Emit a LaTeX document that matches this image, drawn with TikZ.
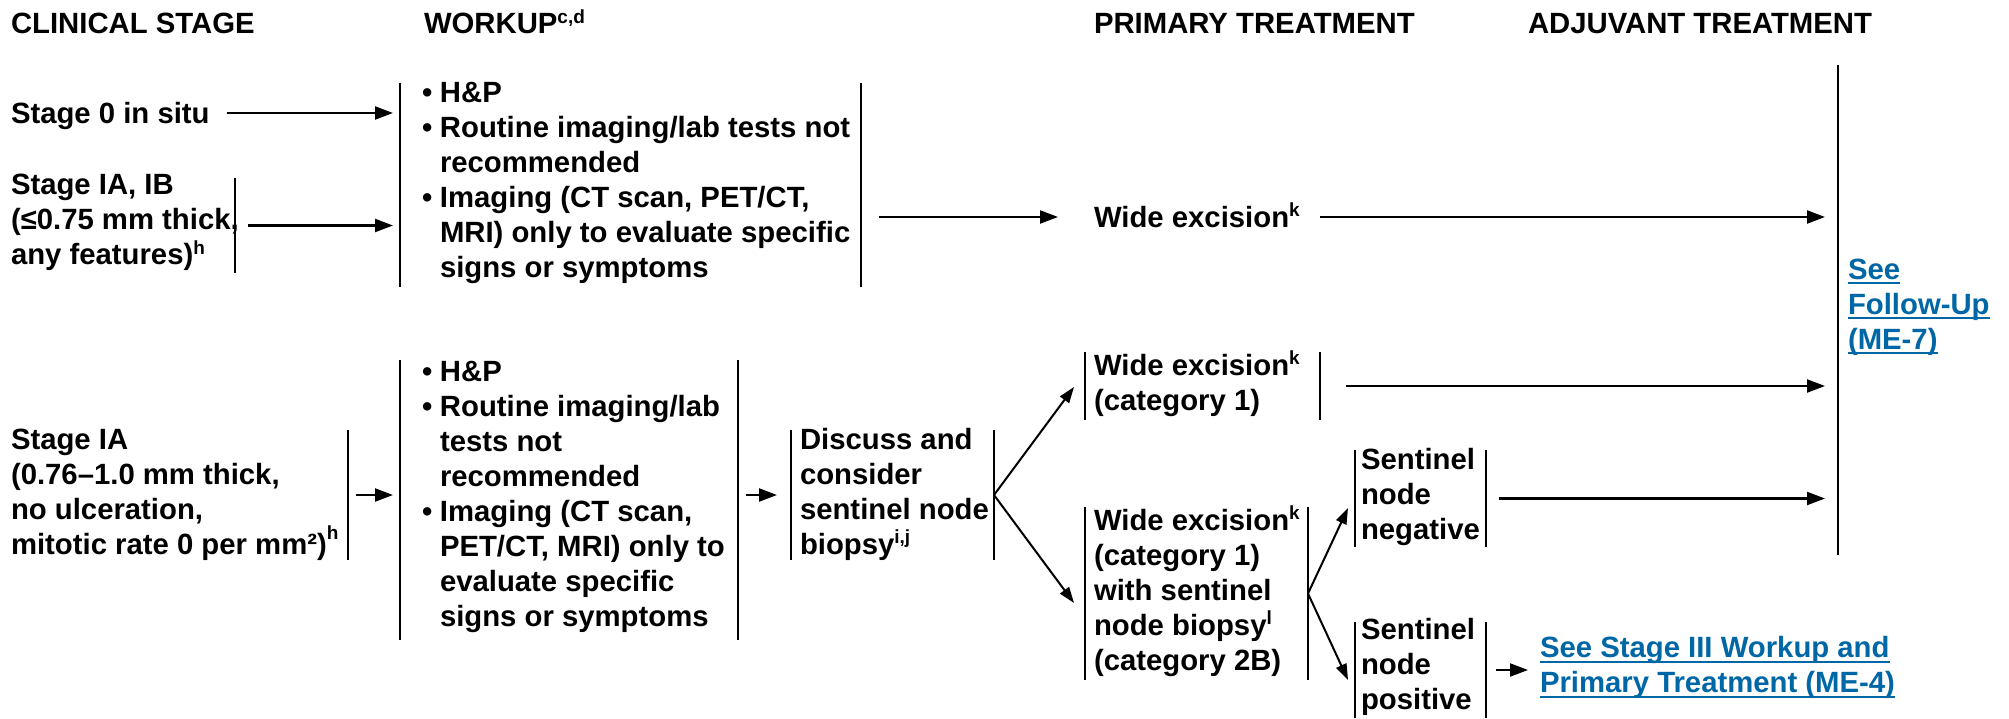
\documentclass[tikz,border=0pt]{standalone}
\usepackage{fontspec}
\setmainfont{Liberation Sans}
\usetikzlibrary{arrows.meta,calc}
\definecolor{linkblue}{RGB}{0,103,166}
\newcommand\sups[2][11]{\smash{\raisebox{#1pt}{\fontsize{19}{19}\selectfont #2}}}
\newcommand\lnk[1]{\textcolor{linkblue}{\setbox0\hbox{#1}\rlap{\rule[-5pt]{\wd0}{2pt}}\box0}}
\newcommand\blk[2]{\makebox[#1][l]{\begin{tabular}{@{}l@{}}#2\end{tabular}}}
\newcommand\bul{\makebox[18pt][l]{•}}
\newcommand\ind{\hspace*{18pt}}
\tikzset{
  every node/.style={font=\bfseries\fontsize{29.3}{35}\selectfont, inner sep=0pt, outer sep=0pt},
  hdr/.style={anchor=base west},
  one/.style={anchor=west, text height=21pt, text depth=0pt},
  tsh/.style={text height=#1, text depth=-#1},
  bk/.style={anchor=west, minimum height=#1, tsh=7.3pt},
  bar/.style={draw=black, line width=2.3pt, -},
  lbar/.style={append after command={(\tikzlastnode.north west) edge[bar] (\tikzlastnode.south west)}},
  rbar/.style={append after command={(\tikzlastnode.north east) edge[bar] (\tikzlastnode.south east)}},
  arr/.style={draw=black, line width=2.2pt, -{Triangle[length=18pt,width=13pt]}},
  farr/.style={draw=black, line width=2pt, -{Triangle[length=16pt,width=11pt]}},
}
\begin{document}
\begin{tikzpicture}[x=1pt, y=-1pt]
\fill[white] (0,0) rectangle (2009,719);
\useasboundingbox (0,0) rectangle (2009,719);
% headers
\node[hdr] (hcs) at (11,33.5) {CLINICAL STAGE};
\node[hdr] (hwu) at (424,33.5) {WORKUP\sups[10]{c,d}};
\node[hdr] (hpt) at (1094,33.5) {PRIMARY TREATMENT};
\node[hdr] (hat) at (1528,33.5) {ADJUVANT TREATMENT};
% row 1
\node[one] (s0) at (11,113) {Stage 0 in situ};
\node[bk=95, rbar] (s1) at (11,225.5) {\blk{224pt}{Stage IA, IB\\(≤0.75 mm thick,\\any features)\sups[10]{h}}};
\node[bk=204, lbar, rbar, inner xsep=22pt, tsh=9.3pt] (w1) at (400,185) {\blk{417pt}{\bul H\&P\\\bul Routine imaging/lab tests not\\\ind recommended\\\bul Imaging (CT scan, PET/CT,\\\ind MRI) only to evaluate specific\\\ind signs or symptoms}};
\node[one] (we0) at (1094,217) {Wide excision\sups{k}};
\node[bk=490, lbar, inner xsep=10pt] (fu) at (1838,310) {\blk{102pt}{\lnk{See}\\\lnk{Follow-Up}\\\lnk{(ME-7)}}};
% row 2
\node[bk=130, rbar, tsh=12.3pt] (s2) at (11,495) {\blk{337pt}{Stage IA\\(0.76–1.0 mm thick,\\no ulceration,\\mitotic rate 0 per mm²)\sups[15]{h}}};
\node[bk=280, lbar, rbar, inner xsep=22pt] (w2) at (400,500) {\blk{294pt}{\bul H\&P\\\bul Routine imaging/lab\\\ind tests not\\\ind recommended\\\bul Imaging (CT scan,\\\ind PET/CT, MRI) only to\\\ind evaluate specific\\\ind signs or symptoms}};
\node[bk=130, lbar, rbar, inner xsep=9pt, tsh=12.3pt] (dc) at (791,495) {\blk{185pt}{Discuss and\\consider\\sentinel node\\biopsy\sups{i,j}}};
\node[bk=68, lbar, rbar, inner xsep=9pt, tsh=12.3pt] (we1) at (1085,386) {\blk{217pt}{Wide excision\sups{k}\\(category 1)}};
\node[bk=173, lbar, rbar, inner xsep=9pt, tsh=12.3pt] (we2) at (1085,593.5) {\blk{205pt}{Wide excision\sups{k}\\(category 1)\\with sentinel\\node biopsy\sups{l}\\(category 2B)}};
\node[bk=97, lbar, rbar, inner xsep=6pt, tsh=10.3pt] (sn) at (1355,498.5) {\blk{119pt}{Sentinel\\node\\negative}};
\node[bk=96, lbar, rbar, inner xsep=6pt] (sp) at (1355,670) {\blk{119pt}{Sentinel\\node\\positive}};
\node[anchor=west, tsh=12.3pt] (lk) at (1540,668.5) {\blk{360pt}{\lnk{See Stage III Workup and}\\\lnk{Primary Treatment (ME-4)}}};
% connectors
\draw[arr, shorten <=17pt, shorten >=7pt] (s0.east) -- (s0.east -| w1.west);
\draw[arr, shorten <=13pt, shorten >=7pt] (s1.east) -- (s1.east -| w1.west);
\draw[arr, shorten <=18pt, shorten >=36pt] (we0.west -| w1.east) -- (we0.west);
\draw[arr, shorten <=20pt, shorten >=13pt] (we0.east) -- (we0.east -| fu.west);
\draw[arr, shorten <=8pt, shorten >=7pt] (s2.east) -- (s2.east -| w2.west);
\draw[arr, shorten <=8pt, shorten >=14pt] (dc.west -| w2.east) -- (dc.west);
\draw[farr] (dc.east) -- ($(we1.west)+(-11,1)$);
\draw[farr] (dc.east) -- ($(we2.west)+(-11,9.5)$);
\draw[arr, shorten <=26pt, shorten >=13pt] (we1.east) -- (we1.east -| fu.west);
\draw[farr] (we2.east) -- ($(sn.west)+(-7,9.5)$);
\draw[farr] (we2.east) -- ($(sp.west)+(-7,10)$);
\draw[arr, shorten <=13pt, shorten >=13pt] (sn.east) -- (sn.east -| fu.west);
\draw[arr, shorten <=10pt, shorten >=12pt] (sp.east) -- (sp.east -| lk.west);
\end{tikzpicture}
\end{document}
